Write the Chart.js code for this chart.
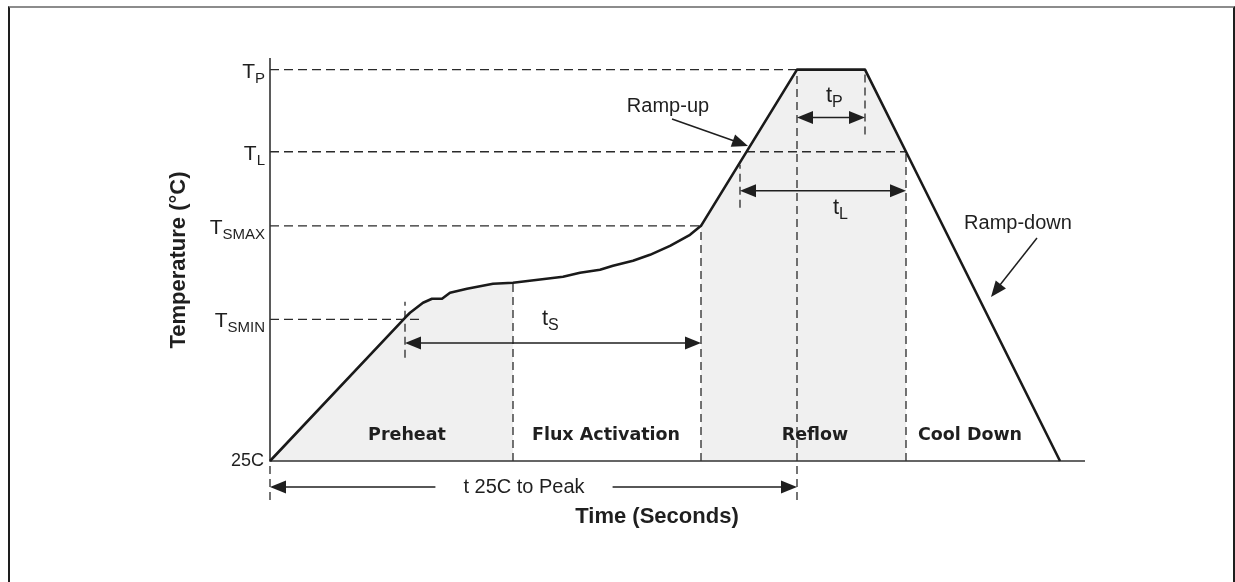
<!DOCTYPE html>
<html>
<head>
<meta charset="utf-8">
<title>Reflow profile</title>
<script src="https://cdn.jsdelivr.net/npm/chart.js@4.4.1/dist/chart.umd.min.js"></script>
<style>
  html, body { margin: 0; padding: 0; background: #fff; }
  #wrap { position: relative; width: 1235px; height: 582px; overflow: hidden; }
  #frame {
    position: absolute; left: 8px; top: 6px; width: 1227px; height: 600px;
    border-top: 2px solid #8c8c8c; border-left: 2px solid #1e1e1e; border-right: 2px solid #1e1e1e;
    box-sizing: border-box;
  }
  #c { position: absolute; left: 0; top: 0; }
</style>
</head>
<body>
<div id="wrap">
  <div id="frame"></div>
  <canvas id="c" width="1235" height="582"></canvas>
</div>
<script>
// profile curve (time in s, temperature in C) - schematic values
const profileTime = [0, 54, 56, 61.2, 64.8, 68.8, 72, 78.8, 89.2, 97.2, 117.2, 124, 132, 137.2, 145.2, 152, 160, 168, 172.4, 210.8, 238, 254.4, 316];
const profileTemp = [25, 111, 114, 120, 122.4, 122.4, 126, 128.4, 131.4, 132, 135.6, 138, 139.8, 142.2, 145.2, 148.8, 154.2, 160.8, 166.2, 260, 260, 210.7, 25];

// temperature levels on the y axis
const levelMain = ['T', 'T', 'T', 'T'];
const levelSub = ['P', 'L', 'SMAX', 'SMIN'];
const levelTemps = [260, 210.7, 166.2, 110];
const levelGuideEnd = [210.8, 254.4, 172.4, 60];
const baseLabel = '25C';
const baseTemp = 25;

// vertical dashed guides: time, from temp, to temp
const guideTime = [54, 97.2, 172.4, 210.8, 238, 188, 254.4, 0];
const guideFrom = [87, 25, 25, 1.6, 221, 177.1, 25, 1.6];
const guideTo = [120.6, 132, 166.2, 260, 260, 202.9, 210.7, 22.6];

// phases along the time axis
const phaseNames = ['Preheat', 'Flux Activation', 'Reflow', 'Cool Down'];
const phaseBounds = [0, 97.2, 172.4, 254.4, 316];
const phaseShaded = [true, false, true, false];

// duration arrows
const spanMain = ['t', 't', 't'];
const spanSub = ['P', 'L', 'S'];
const spanFrom = [210.8, 188, 54];
const spanTo = [238, 254.4, 172.4];
const spanTemp = [231.2, 187.3, 95.9];

const xMax = 326;
const yMax = 267;

const SANS = '"Liberation Sans", Arial, Helvetica, sans-serif';
const VERDANA = '"DejaVu Sans", Verdana, sans-serif';
const INK = '#1f1f1f';
const DASH = '#2a2a2a';

const datasets = [];

// main profile line (drawn on top)
datasets.push({
    data: profileTime.map((t, i) => ({ x: t, y: profileTemp[i] })),
    borderColor: '#1a1a1a',
    borderWidth: 2.6,
    borderJoinStyle: 'round',
    fill: false
});

// axes
datasets.push({
    data: [{ x: 0, y: yMax }, { x: 0, y: baseTemp }, { x: xMax, y: baseTemp }],
    borderColor: '#333',
    borderWidth: 1.6,
    fill: false
});

// horizontal level guides
levelTemps.forEach((T, i) => {
    datasets.push({
        data: [{ x: 0, y: T }, { x: levelGuideEnd[i], y: T }],
        borderColor: DASH,
        borderWidth: 1.3,
        borderDash: [9, 5],
        fill: false
    });
});

// vertical guides
guideTime.forEach((t, i) => {
    datasets.push({
        data: [{ x: t, y: guideFrom[i] }, { x: t, y: guideTo[i] }],
        borderColor: DASH,
        borderWidth: 1.3,
        borderDash: [8, 5],
        fill: false
    });
});

// grey fill under the shaded phases
phaseNames.forEach((name, i) => {
    if (!phaseShaded[i]) return;
    const pts = [];
    profileTime.forEach((t, k) => {
        if (t >= phaseBounds[i] && t <= phaseBounds[i + 1]) pts.push({ x: t, y: profileTemp[k] });
    });
    datasets.push({
        data: pts,
        borderWidth: 0,
        borderColor: 'rgba(0,0,0,0)',
        backgroundColor: '#f0f0f0',
        fill: 'start'
    });
});

function arrowHead(ctx, fx, fy, tx, ty) {
    const L = 16, W = 6.5;
    const a = Math.atan2(ty - fy, tx - fx);
    const c = Math.cos(a), s = Math.sin(a);
    ctx.beginPath();
    ctx.moveTo(tx, ty);
    ctx.lineTo(tx - L * c + W * s, ty - L * s - W * c);
    ctx.lineTo(tx - L * c - W * s, ty - L * s + W * c);
    ctx.closePath();
    ctx.fill();
}

function line(ctx, x1, y1, x2, y2) {
    ctx.beginPath();
    ctx.moveTo(x1, y1);
    ctx.lineTo(x2, y2);
    ctx.stroke();
}

// text with a subscript, x is left edge (or right edge if align right)
function subText(ctx, main, sub, x, baseY, align, mainSize, subSize) {
    ctx.font = mainSize + 'px ' + SANS;
    const w1 = ctx.measureText(main).width;
    ctx.font = subSize + 'px ' + SANS;
    const w2 = ctx.measureText(sub).width;
    const left = align === 'right' ? x - w1 - w2 : x;
    ctx.textAlign = 'left';
    ctx.textBaseline = 'alphabetic';
    ctx.font = mainSize + 'px ' + SANS;
    ctx.fillText(main, left, baseY);
    ctx.font = subSize + 'px ' + SANS;
    ctx.fillText(sub, left + w1, baseY + 5);
}

const annotations = {
    id: 'annotations',
    afterDraw(chart) {
        const ctx = chart.ctx;
        const X = v => chart.scales.x.getPixelForValue(v);
        const Y = v => chart.scales.y.getPixelForValue(v);
        ctx.save();
        ctx.fillStyle = INK;
        ctx.strokeStyle = INK;

        // y level labels
        levelTemps.forEach((T, i) => {
            subText(ctx, levelMain[i], levelSub[i], X(0) - 5, Y(T) + 8, 'right', 21, 15);
        });
        ctx.font = '18px ' + SANS;
        ctx.textAlign = 'right';
        ctx.textBaseline = 'middle';
        ctx.fillText(baseLabel, X(0) - 6, Y(baseTemp));

        // phase names
        const phaseLabelX = [407, 606, 815, 970];
        ctx.font = 'bold 17.5px ' + VERDANA;
        ctx.textAlign = 'center';
        ctx.textBaseline = 'middle';
        phaseNames.forEach((n, i) => ctx.fillText(n, phaseLabelX[i], 435));

        // duration arrows
        const spanLabelX = [826, 833, 542];
        const spanLabelY = [102, 214, 325];
        ctx.lineWidth = 1.5;
        spanFrom.forEach((a, i) => {
            const x1 = X(a), x2 = X(spanTo[i]), y = Y(spanTemp[i]);
            line(ctx, x1 + 8, y, x2 - 8, y);
            arrowHead(ctx, x2, y, x1, y);
            arrowHead(ctx, x1, y, x2, y);
            subText(ctx, spanMain[i], spanSub[i], spanLabelX[i], spanLabelY[i], 'left', 22, 16);
        });

        // t 25C to Peak
        const ay = 487;
        const x1 = X(0), x2 = X(210.8);
        ctx.font = '20px ' + SANS;
        ctx.textAlign = 'center';
        ctx.textBaseline = 'middle';
        const label = 't 25C to Peak';
        const cx = 524;
        const tw = ctx.measureText(label).width;
        ctx.fillText(label, cx, ay);
        line(ctx, x1 + 8, ay, cx - tw / 2 - 28, ay);
        line(ctx, cx + tw / 2 + 28, ay, x2 - 8, ay);
        arrowHead(ctx, x2, ay, x1, ay);
        arrowHead(ctx, x1, ay, x2, ay);

        // ramp labels with pointers
        ctx.font = '20px ' + SANS;
        ctx.fillText('Ramp-up', 668, 106);
        line(ctx, 672, 119, 740, 143);
        arrowHead(ctx, 672, 119, 748, 146);
        ctx.fillText('Ramp-down', 1018, 223);
        line(ctx, 1037, 238, 996, 290);
        arrowHead(ctx, 1037, 238, 991, 297);

        // axis titles
        ctx.font = 'bold 22px ' + SANS;
        ctx.fillText('Time (Seconds)', 657, 517);
        ctx.translate(179, 260);
        ctx.rotate(-Math.PI / 2);
        ctx.fillText('Temperature (°C)', 0, 0);
        ctx.restore();
    }
};

new Chart(document.getElementById('c'), {
    type: 'line',
    data: { datasets: datasets },
    options: {
        responsive: false,
        animation: false,
        layout: { padding: { left: 270, top: 58, right: 150, bottom: 121 } },
        elements: { point: { radius: 0 }, line: { tension: 0 } },
        datasets: { line: { clip: false } },
        plugins: { legend: { display: false }, tooltip: { enabled: false } },
        scales: {
            x: { type: 'linear', min: 0, max: xMax, display: false },
            y: { type: 'linear', min: baseTemp, max: yMax, display: false }
        }
    },
    plugins: [annotations]
});
</script>
</body>
</html>
